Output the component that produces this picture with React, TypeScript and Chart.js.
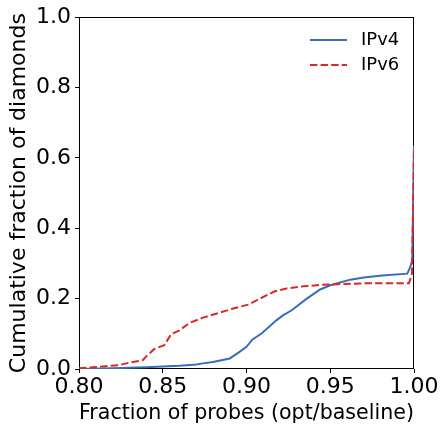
import React, { useEffect, useRef } from "react";
import { Chart, registerables } from "chart.js";

Chart.register(...registerables);

const xTicks = [0.8, 0.85, 0.9, 0.95, 1.0];
const yTicks = [0, 0.2, 0.4, 0.6, 0.8, 1.0];

const seriesNames = ["IPv4", "IPv6"];

const ipv4X = [0.8, 0.82, 0.84, 0.85, 0.86, 0.87, 0.874, 0.88, 0.89, 0.895, 0.9, 0.9036, 0.909, 0.918, 0.922, 0.927, 0.936, 0.944, 0.95, 0.962, 0.97, 0.981, 0.996, 0.9978, 0.999, 1.0];
const ipv4Y = [0.0, 0.002, 0.005, 0.007, 0.009, 0.013, 0.016, 0.02, 0.03, 0.046, 0.063, 0.084, 0.101, 0.139, 0.153, 0.167, 0.2, 0.226, 0.238, 0.254, 0.26, 0.266, 0.271, 0.29, 0.31, 0.635];

const ipv6X = [0.8, 0.814, 0.824, 0.83, 0.838, 0.841, 0.845, 0.851, 0.855, 0.86, 0.866, 0.874, 0.884, 0.892, 0.901, 0.908, 0.917, 0.924, 0.934, 0.944, 0.954, 0.974, 0.997, 0.9988, 1.0];
const ipv6Y = [0.002, 0.007, 0.011, 0.018, 0.025, 0.04, 0.057, 0.068, 0.099, 0.11, 0.131, 0.146, 0.16, 0.172, 0.183, 0.2, 0.221, 0.229, 0.235, 0.239, 0.241, 0.244, 0.244, 0.271, 0.63];

const BLUE = "#3b6db6";
const RED = "#d62a2a";
const DASH = [7.4, 3.2];
const FONT = "'DejaVu Sans', sans-serif";

export default function App() {
  const ref = useRef<HTMLCanvasElement | null>(null);

  useEffect(() => {
    if (!ref.current) return;

    const framePlugin = {
      id: "frame",
      beforeDatasetsDraw(chart: any) {
        const { ctx, chartArea } = chart;
        ctx.save();
        ctx.strokeStyle = "#000";
        ctx.lineWidth = 1;
        ctx.strokeRect(
          Math.round(chartArea.left) + 0.5,
          Math.round(chartArea.top) + 0.5,
          Math.round(chartArea.right - chartArea.left) - 1,
          Math.round(chartArea.bottom - chartArea.top) - 1
        );
        ctx.restore();
      },
    };

    const legendPlugin = {
      id: "customLegend",
      afterDraw(chart: any) {
        const { ctx } = chart;
        const entries = [
          { label: seriesNames[0], color: BLUE, dash: [] as number[], y: 40 },
          { label: seriesNames[1], color: RED, dash: DASH, y: 65 },
        ];
        ctx.save();
        entries.forEach((e) => {
          ctx.beginPath();
          ctx.setLineDash(e.dash);
          ctx.strokeStyle = e.color;
          ctx.lineWidth = 2.2;
          ctx.moveTo(310, e.y);
          ctx.lineTo(347, e.y);
          ctx.stroke();
          ctx.setLineDash([]);
          ctx.fillStyle = "#000";
          ctx.font = `18px ${FONT}`;
          ctx.textBaseline = "middle";
          ctx.textAlign = "left";
          ctx.fillText(e.label, 361, e.y);
        });
        ctx.restore();
      },
    };

    const chart = new Chart(ref.current, {
      type: "line",
      data: {
        datasets: [
          {
            label: seriesNames[0],
            data: ipv4X.map((x, i) => ({ x, y: ipv4Y[i] })),
            borderColor: BLUE,
            borderWidth: 2,
            pointRadius: 0,
            tension: 0,
            fill: false,
            order: 1,
          },
          {
            label: seriesNames[1],
            data: ipv6X.map((x, i) => ({ x, y: ipv6Y[i] })),
            borderColor: RED,
            borderWidth: 2,
            borderDash: DASH,
            pointRadius: 0,
            tension: 0,
            fill: false,
            order: 0,
          },
        ],
      },
      options: {
        responsive: false,
        animation: false,
        layout: { padding: { top: 16, right: 27, left: 0, bottom: 0 } },
        plugins: { legend: { display: false }, tooltip: { enabled: false } },
        scales: {
          x: {
            type: "linear",
            min: 0.8,
            max: 1.0,
            afterBuildTicks: (s: any) => {
              s.ticks = xTicks.map((v) => ({ value: v }));
            },
            afterFit: (s: any) => {
              s.height = 58;
            },
            ticks: {
              callback: (v: any) => Number(v).toFixed(2),
              font: { family: FONT, size: 22 },
              color: "#000",
              padding: 1,
              maxRotation: 0,
              autoSkip: false,
            },
            grid: {
              drawOnChartArea: false,
              drawTicks: true,
              tickLength: 4,
              color: "#000",
              tickColor: "#000",
            },
            border: { display: false },
            title: {
              display: true,
              text: "Fraction of probes (opt/baseline)",
              font: { family: FONT, size: 22 },
              color: "#000",
              padding: { top: 0, bottom: 1 },
            },
          },
          y: {
            type: "linear",
            min: 0,
            max: 1,
            afterBuildTicks: (s: any) => {
              s.ticks = yTicks.map((v) => ({ value: v }));
            },
            afterFit: (s: any) => {
              s.width = 79;
            },
            ticks: {
              callback: (v: any) => Number(v).toFixed(1),
              font: { family: FONT, size: 22 },
              color: "#000",
              padding: 4,
              autoSkip: false,
            },
            grid: {
              drawOnChartArea: false,
              drawTicks: true,
              tickLength: 4,
              color: "#000",
              tickColor: "#000",
            },
            border: { display: false },
            title: {
              display: true,
              text: "Cumulative fraction of diamonds",
              font: { family: FONT, size: 22 },
              color: "#000",
              padding: { top: 6, bottom: 0 },
            },
          },
        },
      },
      plugins: [framePlugin, legendPlugin],
    });

    return () => chart.destroy();
  }, []);

  return (
    <div style={{ position: "fixed", left: 0, top: 0, width: 441, height: 427, background: "#fff" }}>
      <canvas ref={ref} width={441} height={427} style={{ width: 441, height: 427 }} />
    </div>
  );
}
